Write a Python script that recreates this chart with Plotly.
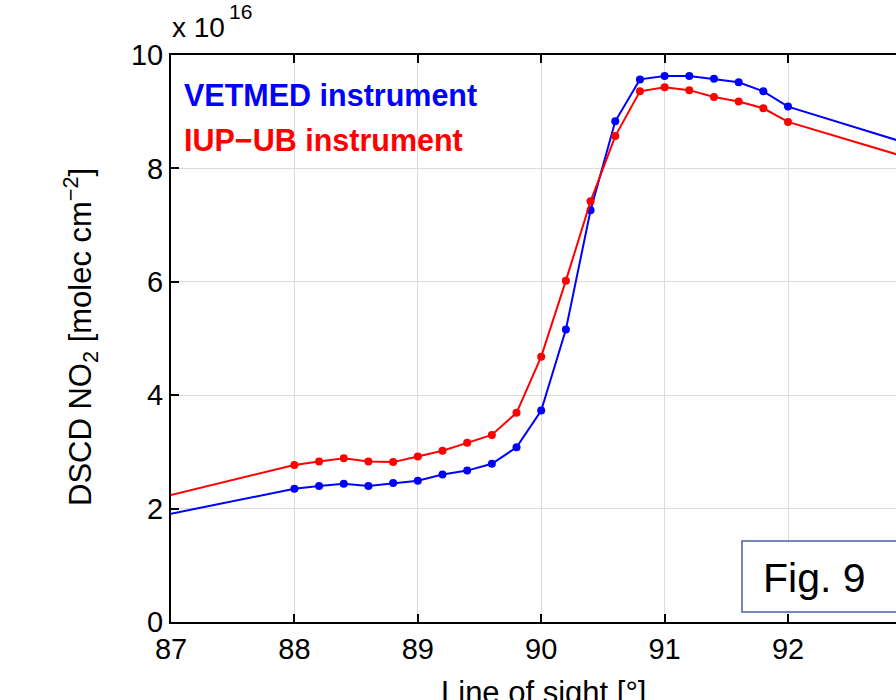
import plotly.graph_objects as go

# Line of sight angles (degrees); first/last points lie outside the visible range
los = [86, 88, 88.2, 88.4, 88.6, 88.8, 89, 89.2, 89.4, 89.6, 89.8, 90, 90.2, 90.4,
       90.6, 90.8, 91, 91.2, 91.4, 91.6, 91.8, 92, 93]
# DSCD NO2 in units of 1e16 molec cm^-2
vetmed = [1.47, 2.35, 2.40, 2.44, 2.40, 2.45, 2.49, 2.60, 2.67, 2.79, 3.08, 3.73, 5.16, 7.26,
          8.83, 9.57, 9.63, 9.63, 9.58, 9.52, 9.36, 9.09, 8.42]
iupub = [1.71, 2.77, 2.83, 2.89, 2.83, 2.82, 2.92, 3.02, 3.16, 3.30, 3.69, 4.68, 6.02, 7.42,
         8.57, 9.36, 9.43, 9.38, 9.26, 9.18, 9.06, 8.82, 8.17]

x_ticks = [87, 88, 89, 90, 91, 92, 93]
y_ticks = [0, 2, 4, 6, 8, 10]

W, H = 896, 700
L, R, T, B = 171, 0, 55, 78
PW = W - L - R
PH = H - T - B

def px(xp):
    return (xp - L) / PW

def py(yp):
    return (H - B - yp) / PH

FONT = "Liberation Sans, Arial, Helvetica, sans-serif"
TICK = 29

fig = go.Figure()
fig.add_trace(go.Scatter(x=los, y=vetmed, mode="lines+markers", name="VETMED instrument",
                         line=dict(color="#0000ff", width=2),
                         marker=dict(color="#0000ff", size=8)))
fig.add_trace(go.Scatter(x=los, y=iupub, mode="lines+markers", name="IUP\u2212UB instrument",
                         line=dict(color="#ff0000", width=2),
                         marker=dict(color="#ff0000", size=8)))

fig.update_layout(
    width=W, height=H,
    margin=dict(l=L, r=R, t=T, b=B, pad=0),
    paper_bgcolor="white", plot_bgcolor="white",
    showlegend=False,
    font=dict(family=FONT, size=TICK, color="black"),
    xaxis=dict(range=[87, 92.875], tickvals=x_ticks, ticks="inside", ticklen=8,
               tickwidth=1.5, tickcolor="black", showline=True, linecolor="black",
               linewidth=2, mirror="ticks", showgrid=True, gridcolor="#dcdcdc",
               gridwidth=1, zeroline=False, tickfont=dict(size=TICK)),
    yaxis=dict(range=[0, 10], tickvals=y_ticks, ticks="inside", ticklen=8,
               tickwidth=1.5, tickcolor="black", showline=True, linecolor="black",
               linewidth=2, mirror=False, showgrid=True, gridcolor="#dcdcdc",
               gridwidth=1, zeroline=False, tickfont=dict(size=TICK)),
)

ann = []
ann.append(dict(text="<b>VETMED instrument</b>", x=px(182), y=py(95), xref="paper", yref="paper",
                xanchor="left", yanchor="middle", showarrow=False,
                font=dict(size=30.5, color="#0000ff", family=FONT)))
ann.append(dict(text="<b>IUP\u2212UB instrument</b>", x=px(182), y=py(140), xref="paper", yref="paper",
                xanchor="left", yanchor="middle", showarrow=False,
                font=dict(size=30.5, color="#ff0000", family=FONT)))
ann.append(dict(text="x 10", x=px(170), y=py(28), xref="paper", yref="paper",
                xanchor="left", yanchor="middle", showarrow=False,
                font=dict(size=28, color="black", family=FONT)))
ann.append(dict(text="16", x=px(227), y=py(11), xref="paper", yref="paper",
                xanchor="left", yanchor="middle", showarrow=False,
                font=dict(size=21, color="black", family=FONT)))
ann.append(dict(text="Line of sight [\u00b0]", x=px(543), y=py(692), xref="paper", yref="paper",
                xanchor="center", yanchor="middle", showarrow=False,
                font=dict(size=31, color="black", family=FONT)))
ann.append(dict(text="DSCD NO<sub>2</sub> [molec cm<sup>\u22122</sup>]", x=px(80), y=py(337),
                xref="paper", yref="paper", xanchor="center", yanchor="middle",
                textangle=-90, showarrow=False,
                font=dict(size=31, color="black", family=FONT)))
ann.append(dict(text="Fig. 9", x=px(761), y=py(578), xref="paper", yref="paper",
                xanchor="left", yanchor="middle", showarrow=False,
                font=dict(size=41, color="black", family=FONT)))
fig.update_layout(annotations=ann)

fig.add_shape(type="rect", xref="paper", yref="paper",
              x0=px(742), x1=px(960), y0=py(612), y1=py(541),
              line=dict(color="#4b5ea8", width=1.5), fillcolor="white", layer="above")

fig.write_html("out.html")
